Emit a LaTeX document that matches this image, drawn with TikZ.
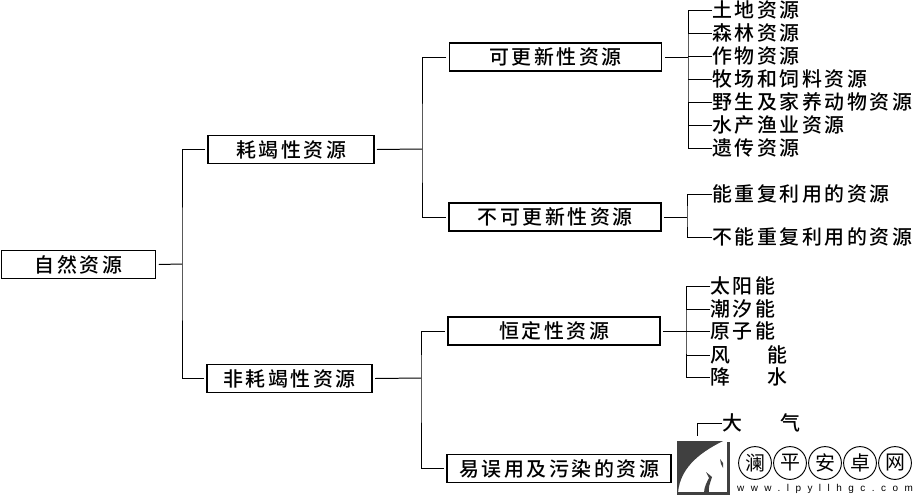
\documentclass[tikz,border=0pt]{standalone}
\usepackage{fontspec}
\usetikzlibrary{positioning}
\newfontfamily\cjk[LetterSpace=13]{Noto Sans CJK SC Medium}
\newfontfamily\cjktight{Noto Sans CJK SC}
\newfontfamily\wwwfont[LetterSpace=65]{Liberation Sans}
\begin{document}
\begin{tikzpicture}[
  x=0.03cm, y=-0.03cm, line width=0.85pt,
  box/.style={draw, line width=1.1pt, minimum height=24pt, inner sep=0pt, font=\fontsize{17pt}{18pt}\cjk, outer sep=2.5pt},
  leaf/.style={anchor=west, inner sep=0pt, outer sep=0pt, font=\fontsize{17pt}{18pt}\cjk},
  seal/.style={draw, circle, line width=0.8pt, minimum size=28pt, inner sep=0pt, font=\fontsize{17pt}{18pt}\cjktight}]
\useasboundingbox (0,0) rectangle (923,500);
% ---------------- first two levels ----------------
\node[box, minimum width=132pt] (root) at (78.5,264.5) {自然资源};
\node[box, minimum width=141.5pt] (hao) at (291,149.5) {耗竭性资源};
\node[box, minimum width=141pt] (feihao) at (289.5,378.5) {非耗竭性资源};
\coordinate (j0) at (182,264);
\draw (root.east) -- (j0);
\draw (hao.west) -| (j0) |- (feihao.west);
% ---------------- third level ----------------
\node[box, minimum width=181.5pt] (kegeng) at (555.5,57) {可更新性资源};
\node[box, minimum width=181pt] (bukegeng) at (555,217) {不可更新性资源};
\node[box, minimum width=181pt] (hengding) at (554,331) {恒定性资源};
\node[box, minimum width=191pt] (yiwu) at (559,468.5) {易误用及污染的资源};
\coordinate (j1) at (422,149);
\coordinate (j2) at (421,378);
\draw (hao.east) -- (j1);
\draw (kegeng.west) -| (j1) |- (bukegeng.west);
\draw (feihao.east) -- (j2);
\draw (hengding.west) -| (j2) |- (yiwu.west);
% ---------------- leaves ----------------
\coordinate (jk) at (688,57);
\draw (kegeng.east) -- (jk);
\foreach \i/\y/\t in {a/10/土地资源, b/33/森林资源, c/56/作物资源, d/79/牧场和饲料资源, e/102/野生及家养动物资源, f/125/水产渔业资源, g/148/遗传资源} {
  \node[leaf] (k\i) at (712,\y) {\t};
  \draw (k\i.west) -- (k\i.west -| jk);
}
\draw (ka.west) -| (jk) |- (kg.west);
\node[leaf] (ba) at (712,194) {能重复利用的资源};
\node[leaf] (bb) at (712,237) {不能重复利用的资源};
\coordinate (jb) at (687,217);
\draw (bukegeng.east) -- (jb);
\draw (ba.west) -| (jb) |- (bb.west);
\coordinate (jh) at (686,331);
\draw (hengding.east) -- (jh);
\foreach \i/\y/\t in {a/286/太阳能, b/309/潮汐能, c/331/原子能, d/355/风\hspace{32pt}能, e/377/降\hspace{32pt}水} {
  \node[leaf] (h\i) at (710,\y) {\t};
  \draw (h\i.west) -- (h\i.west -| jh);
}
\draw (ha.west) -| (jh) |- (he.west);
\node[leaf] (da) at (722,423) {大\hspace{33pt}气};
\coordinate (jd) at (697,436);
\draw (da.west) -| (jd);
% ---------------- watermark ----------------
\fill[white] (676,441) rectangle (923,500);
\draw[line width=2pt, color=black!75] (728.5,442) -- (728.5,493.5) -- (677,493.5);
\fill[black!75] (677,441) -- (723,441) .. controls (705,450) and (680,465) .. (678,493) -- (677,493) -- cycle;
\fill[black!75] (704,493) .. controls (704,487) and (707,482) .. (709,478) -- (706,472) -- (712,477) .. controls (710,483) and (708,488) .. (709,493) -- cycle;
\fill[black!75] (720,459) -- (723,463) -- (723,468) -- (721,464) -- cycle;
\foreach \i/\x/\t in {a/755/澜, b/790/平, c/825/安, d/860/卓, e/895/网} {
  \node[seal] (s\i) at (\x,463) {\t};
}
\node[font=\fontsize{8.5pt}{9pt}\wwwfont, inner sep=0pt] (web) at (825,488.5) {www.lpyllhgc.com};
\end{tikzpicture}
\end{document}
